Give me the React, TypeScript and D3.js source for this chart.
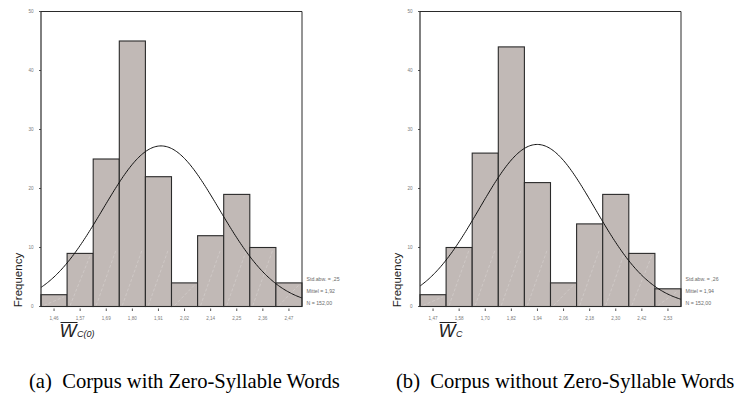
import React from "react";
import * as d3 from "d3";

// Histogram panels of mean word length with fitted normal curves
const binLabelsA = ["1,46", "1,57", "1,69", "1,80", "1,91", "2,02", "2,14", "2,25", "2,36", "2,47"];
const binCentersA = [1.46, 1.57, 1.69, 1.80, 1.91, 2.02, 2.14, 2.25, 2.36, 2.47];
const countsA = [2, 9, 25, 45, 22, 4, 12, 19, 10, 4];
const statsA = { sd: 0.25, mean: 1.92, n: 152 };
const statLabelsA = ["Std.abw. = ,25", "Mittel = 1,92", "N = 152,00"];

const binLabelsB = ["1,47", "1,58", "1,70", "1,82", "1,94", "2,06", "2,18", "2,30", "2,42", "2,53"];
const binCentersB = [1.47, 1.58, 1.70, 1.82, 1.94, 2.06, 2.18, 2.30, 2.42, 2.53];
const countsB = [2, 10, 26, 44, 21, 4, 14, 19, 9, 3];
const statsB = { sd: 0.26, mean: 1.94, n: 152 };
const statLabelsB = ["Std.abw. = ,26", "Mittel = 1,94", "N = 152,00"];

const yTicks = [0, 10, 20, 30, 40, 50];

const BAR_FILL = "#c1b9b6";
const LINE = "#2a2a2a";
const TICK_TEXT = "#7a7a7a";

type PanelProps = {
  left: number;
  right: number;
  labels: string[];
  centers: number[];
  counts: number[];
  stats: { sd: number; mean: number; n: number };
  statLabels: string[];
  sub: string;
  caption: string;
  captionX: number;
};

function Panel(p: PanelProps) {
  const top = 11.5;
  const bottom = 306.5;
  const y = d3.scaleLinear().domain([0, 50]).range([bottom, top]);
  const band = d3.scaleBand<string>().domain(p.labels).range([p.left, p.right]).paddingInner(0).paddingOuter(0);
  const k = p.centers.length;
  const w = (p.centers[k - 1] - p.centers[0]) / (k - 1);
  const x = d3
    .scaleLinear()
    .domain([p.centers[0] - w / 2, p.centers[k - 1] + w / 2])
    .range([p.left, p.right]);

  const { mean, sd, n } = p.stats;
  const density = (v: number) =>
    ((n * w) / (sd * Math.sqrt(2 * Math.PI))) * Math.exp(-0.5 * ((v - mean) / sd) ** 2);
  const [d0, d1] = x.domain();
  const curvePts = d3.range(0, 201).map((i) => {
    const v = d0 + ((d1 - d0) * i) / 200;
    return [x(v), y(density(v))] as [number, number];
  });
  const curve = d3.line().curve(d3.curveBasis)(curvePts) || "";

  const bw = band.bandwidth();

  return (
    <g>
      {/* bars */}
      {p.counts.map((c, i) => {
        const x0 = band(p.labels[i])!;
        return (
          <g key={i}>
            <rect x={x0} y={y(c)} width={bw} height={bottom - y(c)} fill={BAR_FILL} />
            <line
              x1={x0 + 3}
              y1={bottom - 1}
              x2={x0 + bw - 3}
              y2={Math.max(y(c) + 2, bottom - bw * 2.2)}
              stroke="#ffffff"
              strokeOpacity={0.35}
              strokeWidth={0.6}
              strokeDasharray="3 2"
            />
            <rect
              x={x0}
              y={y(c)}
              width={bw}
              height={bottom - y(c)}
              fill="none"
              stroke={LINE}
              strokeWidth={1.1}
            />
          </g>
        );
      })}

      {/* fitted normal curve */}
      <path d={curve} fill="none" stroke="#111" strokeWidth={1} />

      {/* frame */}
      <line x1={p.left} y1={top} x2={p.left} y2={bottom} stroke={LINE} strokeWidth={1.2} />
      <line x1={p.left} y1={top} x2={p.right} y2={top} stroke={LINE} strokeWidth={1} />
      <line x1={p.right} y1={top} x2={p.right} y2={bottom} stroke={LINE} strokeWidth={1} />

      {/* y axis ticks */}
      {yTicks.map((t) => (
        <g key={t}>
          <line x1={p.left - 2} x2={p.left} y1={y(t)} y2={y(t)} stroke={LINE} strokeWidth={0.8} />
          <text
            x={p.left - 7.5}
            y={y(t)}
            textAnchor="end"
            dominantBaseline="central"
            fontSize={4.6}
            fill={TICK_TEXT}
            fontFamily="Liberation Sans, Arial, sans-serif"
          >
            {t}
          </text>
        </g>
      ))}

      {/* x axis ticks */}
      {p.labels.map((l) => {
        const cx = band(l)! + bw / 2;
        return (
          <g key={l}>
            <line x1={cx} x2={cx} y1={bottom + 2} y2={bottom + 4.5} stroke={LINE} strokeWidth={0.8} />
            <text
              x={cx}
              y={318.5}
              textAnchor="middle"
              dominantBaseline="central"
              fontSize={4.6}
              fill={TICK_TEXT}
              fontFamily="Liberation Sans, Arial, sans-serif"
            >
              {l}
            </text>
          </g>
        );
      })}

      {/* summary statistics */}
      {p.statLabels.map((s, i) => (
        <text
          key={s}
          x={p.right + 4.5}
          y={279 + i * 11.8}
          dominantBaseline="central"
          fontSize={5.2}
          fill="#6a6a6a"
          fontFamily="Liberation Sans, Arial, sans-serif"
        >
          {s}
        </text>
      ))}

      {/* y axis title */}
      <text
        transform={`translate(${p.left - 23},280) rotate(-90)`}
        textAnchor="middle"
        dominantBaseline="central"
        fontSize={11.5}
        fill="#222"
        fontFamily="Liberation Sans, Arial, sans-serif"
      >
        Frequency
      </text>

      {/* x axis title: mean word length symbol */}
      <line x1={p.left + 19.5} x2={p.left + 36.5} y1={322.5} y2={322.5} stroke="#222" strokeWidth={1} />
      <text
        x={p.left + 18.5}
        y={337.3}
        fontSize={18}
        fontStyle="italic"
        fill="#222"
        fontFamily="Liberation Sans, Arial, sans-serif"
      >
        W
        <tspan fontSize={9} dx={0.5}>
          {p.sub}
        </tspan>
      </text>

      {/* caption */}
      <text
        x={p.captionX}
        y={388}
        fontSize={20.6}
        fill="#000"
        fontFamily="Liberation Serif, Times New Roman, serif"
        style={{ whiteSpace: "pre" }}
      >
        {p.caption}
      </text>
    </g>
  );
}

export default function App() {
  return (
    <svg
      width={738}
      height={394}
      viewBox="0 0 738 394"
      style={{ position: "absolute", left: 0, top: 0, background: "#fff" }}
    >
      <rect width={738} height={394} fill="#fff" />
      <Panel
        left={41}
        right={302}
        labels={binLabelsA}
        centers={binCentersA}
        counts={countsA}
        stats={statsA}
        statLabels={statLabelsA}
        sub="C(0)"
        caption="(a)  Corpus with Zero-Syllable Words"
        captionX={29}
      />
      <Panel
        left={420}
        right={681}
        labels={binLabelsB}
        centers={binCentersB}
        counts={countsB}
        stats={statsB}
        statLabels={statLabelsB}
        sub="C"
        caption="(b)  Corpus without Zero-Syllable Words"
        captionX={396}
      />
    </svg>
  );
}
